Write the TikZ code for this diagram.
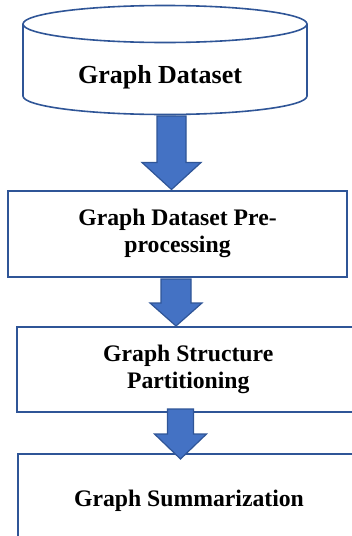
\documentclass[tikz,border=0pt]{standalone}
\usepackage{fontspec}
\setmainfont{Liberation Serif}
\usepackage{tikz}
\usetikzlibrary{positioning, calc}

\definecolor{edgeblue}{RGB}{47,85,151}
\definecolor{fillblue}{RGB}{68,114,196}

% block arrow: start, tip, half shaft, half head, head length
\newcommand{\bigarrow}[5]{%
  \filldraw[blockarrow] let \p1=(#1), \p2=(#2) in
    (\x1-#3pt,\y1) -- (\x1+#3pt,\y1) -- (\x1+#3pt,\y2+#5pt) -- (\x1+#4pt,\y2+#5pt)
    -- (\x1,\y2) -- (\x1-#4pt,\y2+#5pt) -- (\x1-#3pt,\y2+#5pt) -- cycle;}

\begin{document}
\begin{tikzpicture}[x=1pt, y=-1pt,
    stepbox/.style={draw=edgeblue, line width=2pt, fill=white, align=center,
      font=\fontsize{23.7}{27.5}\selectfont\bfseries},
    dbline/.style={draw=edgeblue, line width=1.6pt},
    blockarrow/.style={draw=edgeblue, fill=fillblue, line width=1.2pt, line join=miter}]
   \useasboundingbox (0,0) rectangle (352,536);
   \clip (0,0) rectangle (352,536);

   % database
   \fill[white] (23,24) -- (23,96) arc[start angle=180, end angle=360, x radius=142pt, y radius=18.5pt] -- (307,24) -- cycle;
   \draw[dbline] (23,24) -- (23,96) arc[start angle=180, end angle=360, x radius=142pt, y radius=18.5pt] -- (307,24);
   \draw[dbline, fill=white] (165,24) ellipse[x radius=142pt, y radius=18.5pt];
   \node[font=\fontsize{26}{30}\selectfont\bfseries] (db) at (160,77) {Graph Dataset};

    \node[stepbox, minimum width=339pt, minimum height=86pt] (pre) at (177.5,233.5) {Graph Dataset Pre-\\processing};
    \node[stepbox, minimum width=343.5pt, minimum height=84.5pt] (part) at (188.25,369.25) {Graph Structure\\Partitioning};
    \node[stepbox, minimum width=342pt, minimum height=92pt] (summ) at (189,500.3) {Graph Summarization};

    \coordinate (s1) at (171.5,116);
    \coordinate (s2) at (176,279);
    \coordinate (s3) at (180.5,409);
    \coordinate (e3) at (180.5,459);

    \bigarrow{s1}{s1 |- pre.north}{14.5}{29.5}{27}
    \bigarrow{s2}{s2 |- part.north}{15}{26}{23}
    \bigarrow{s3}{e3}{13}{26}{25}

\end{tikzpicture}
\end{document}
